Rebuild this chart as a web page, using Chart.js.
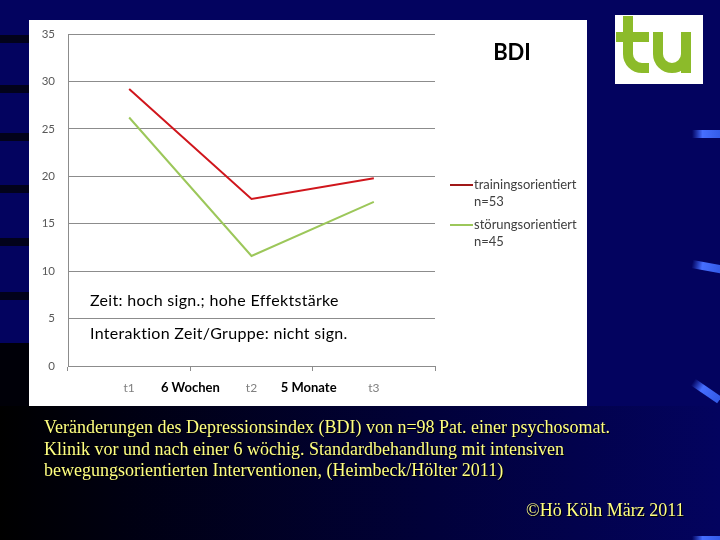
<!DOCTYPE html>
<html>
<head>
<meta charset="utf-8">
<script src="https://cdn.jsdelivr.net/npm/chart.js@4.4.0/dist/chart.umd.min.js"></script>
<style>
  html, body { margin: 0; padding: 0; background: #02025e; }
  #stage { position: relative; width: 720px; height: 540px; overflow: hidden; }
  #bdiChart { position: absolute; left: 0; top: 0; }
  .caption {
    position: absolute; left: 44px; top: 417px; width: 660px;
    font-family: 'Liberation Serif', serif; font-size: 18px; line-height: 21.5px;
    color: #ffff80; text-shadow: 1px 1px 0 #000;
    white-space: nowrap;
  }
  .copy {
    position: absolute; left: 526px; top: 500px;
    font-family: 'Liberation Serif', serif; font-size: 18px;
    color: #ffff80; text-shadow: 1px 1px 0 #000;
  }
</style>
</head>
<body>
<div id="stage">
  <canvas id="bdiChart" width="720" height="540"></canvas>
  <div class="caption">Veränderungen des Depressionsindex (BDI) von n=98 Pat. einer psychosomat.<br>Klinik vor und nach einer 6 wöchig. Standardbehandlung mit intensiven<br>bewegungsorientierten Interventionen, (Heimbeck/Hölter 2011)</div>
  <div class="copy">©Hö Köln März 2011</div>
</div>
<script>
// ---- data ----
const timeLabels = ['t1', 't2', 't3'];
const intervalLabels = ['6 Wochen', '5 Monate'];
const trainingValues = [29.2, 17.6, 19.8];
const stoerungValues = [26.2, 11.6, 17.3];
const seriesNames = ['trainingsorientiert', 'störungsorientiert'];
const groupSizes = ['n=53', 'n=45'];
const yMin = 0, yMax = 35, yStep = 5;

const FONT = "Lato, 'Open Sans', sans-serif";
const RED = '#d0161c';
const GREEN = '#9cc75a';

// slide background, white panel and logo
const slidePlugin = {
    id: 'slide',
    beforeDraw(chart) {
        const ctx = chart.ctx;
        ctx.save();
        ctx.fillStyle = '#03035f';
        ctx.fillRect(0, 0, 720, 540);

        // dark bottom band, black on the left fading to navy on the right
        const g = ctx.createLinearGradient(0, 0, 720, 0);
        g.addColorStop(0, '#000000');
        g.addColorStop(0.15, '#00000f');
        g.addColorStop(0.6, '#01013a');
        g.addColorStop(1, '#03035f');
        ctx.fillStyle = g;
        ctx.fillRect(0, 406, 720, 134);

        // left black stripes
        ctx.fillStyle = '#02021a';
        [35, 85, 133, 185, 238, 292].forEach(y => ctx.fillRect(0, y, 29, 8));
        ctx.fillStyle = '#000008';
        ctx.fillRect(0, 343, 29, 63);

        // right blue streaks
        const streak = (x, y, w, rot) => {
            ctx.save();
            ctx.translate(x, y);
            ctx.rotate(rot);
            const sg = ctx.createLinearGradient(0, 0, w, 0);
            sg.addColorStop(0, 'rgba(60,100,255,0)');
            sg.addColorStop(0.35, 'rgba(70,110,255,1)');
            sg.addColorStop(1, 'rgba(50,90,230,1)');
            ctx.fillStyle = sg;
            ctx.fillRect(0, -4, w, 8);
            ctx.restore();
        };
        streak(692, 134, 30, 0);
        streak(692, 264, 30, 0.18);
        streak(693, 382, 32, 0.6);
        streak(692, 540, 30, 0);

        // white chart panel
        ctx.fillStyle = '#ffffff';
        ctx.fillRect(29, 20, 558, 386);

        // tu logo
        ctx.fillRect(615, 15, 88, 69);
        ctx.strokeStyle = '#8cbb2a';
        ctx.fillStyle = '#8cbb2a';
        ctx.lineWidth = 10;
        ctx.lineCap = 'butt';
        ctx.beginPath();
        ctx.moveTo(628, 16);
        ctx.lineTo(628, 54);
        ctx.arc(642, 54, 14, Math.PI, Math.PI / 2, true);
        ctx.lineTo(649, 68);
        ctx.stroke();
        ctx.fillRect(616, 32, 33, 10);
        ctx.beginPath();
        ctx.moveTo(658, 32);
        ctx.lineTo(658, 54);
        ctx.arc(672, 54, 14, Math.PI, 0, true);
        ctx.stroke();
        ctx.beginPath();
        ctx.moveTo(686, 32);
        ctx.lineTo(686, 73);
        ctx.stroke();
        ctx.restore();
    },
    afterDraw(chart) {
        const ctx = chart.ctx;
        const x = chart.scales.x;
        const area = chart.chartArea;
        ctx.save();

        // title
        ctx.fillStyle = '#000000';
        ctx.font = 'bold 22px ' + FONT;
        ctx.textAlign = 'center';
        ctx.textBaseline = 'middle';
        ctx.fillText('BDI', 512, 53);

        // interval labels between the time points
        ctx.font = 'bold 13px ' + FONT;
        intervalLabels.forEach((lab, i) => {
            const px = (x.getPixelForValue(i) + x.getPixelForValue(i + 1)) / 2;
            ctx.fillText(lab, px - i * 4, area.bottom + 22);
        });

        // statistics notes
        ctx.textAlign = 'left';
        ctx.font = '16px ' + FONT;
        ctx.letterSpacing = '0.3px';
        ctx.fillText('Zeit: hoch sign.; hohe Effektstärke', 90, 301);
        ctx.fillText('Interaktion Zeit/Gruppe: nicht sign.', 90, 334);
        ctx.letterSpacing = '0px';

        // legend
        ctx.font = '13px ' + FONT;
        chart.data.datasets.forEach((ds, i) => {
            const y = 185 + i * 40;
            ctx.strokeStyle = i === 0 ? '#a01818' : ds.borderColor;
            ctx.lineWidth = 2;
            ctx.beginPath();
            ctx.moveTo(450, y);
            ctx.lineTo(473, y);
            ctx.stroke();
            ctx.fillStyle = '#404040';
            ctx.fillText(ds.label, 474, y);
            ctx.fillText(groupSizes[i], 474, y + 17);
        });
        ctx.restore();
    }
};

new Chart(document.getElementById('bdiChart'), {
    type: 'line',
    data: {
        labels: timeLabels,
        datasets: [
            { label: seriesNames[0], data: trainingValues, borderColor: RED, borderWidth: 2, pointRadius: 0, tension: 0 },
            { label: seriesNames[1], data: stoerungValues, borderColor: GREEN, borderWidth: 2, pointRadius: 0, tension: 0 }
        ]
    },
    options: {
        responsive: false,
        animation: false,
        layout: { padding: { left: 29, top: 34, right: 285, bottom: 144 } },
        plugins: { legend: { display: false }, tooltip: { enabled: false } },
        scales: {
            x: {
                offset: true,
                afterFit: s => { s.height = 30; },
                grid: { offset: true, drawOnChartArea: false, color: '#8c8c8c', tickLength: 5 },
                border: { color: '#8c8c8c' },
                ticks: { color: '#7f7f7f', padding: 10, font: { family: FONT, size: 12 } }
            },
            y: {
                min: yMin, max: yMax,
                afterFit: s => { s.width = 39; },
                grid: { color: '#8c8c8c', drawTicks: false },
                border: { color: '#8c8c8c' },
                ticks: { stepSize: yStep, color: '#595959', padding: 13, font: { family: FONT, size: 11.5 } }
            }
        }
    },
    plugins: [slidePlugin]
});
</script>
</body>
</html>
